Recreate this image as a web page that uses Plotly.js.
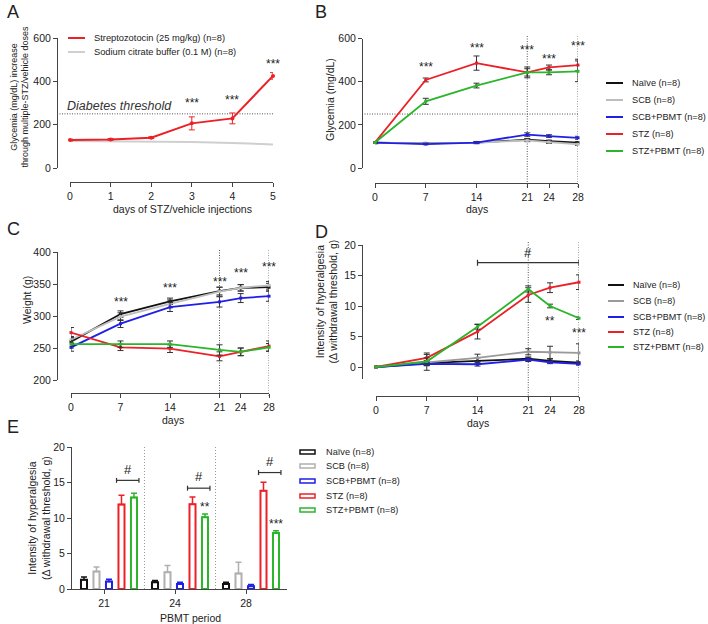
<!DOCTYPE html>
<html><head><meta charset="utf-8">
<script src="https://cdn.plot.ly/plotly-3.0.1.min.js"></script>
<style>html,body{margin:0;padding:0;background:#fff}#chart{width:708px;height:624px}</style>
</head><body><div id="chart"></div>
<script>
// ---------- DATA ----------
// Panel A
const aDays = [0, 1, 2, 3, 4, 5];
const aSTZ = [129, 132, 140, 206, 229, 425];
const aSTZErr = [4, 4, 4, 30, 25, 15];
const aSCB = [125, 124, 122, 120, 115, 109];
const aLegend = ['Streptozotocin (25 mg/kg) (n=8)', 'Sodium citrate buffer (0.1 M) (n=8)'];
const aStarDays = [3, 4, 5];
const aStarY = [300, 314, 480];

// Panels B–D
const days = [0, 7, 14, 21, 24, 28];
const groupNames = ['Naïve (n=8)', 'SCB (n=8)', 'SCB+PBMT (n=8)', 'STZ (n=8)', 'STZ+PBMT (n=8)'];

// Panel B: glycemia (mg/dL)
const bNaive = [118, 114, 118, 131, 124, 117];
const bNaiveErr = [4, 3, 4, 6, 5, 5];
const bSCB = [118, 114, 117, 128, 120, 110];
const bSCBErr = [4, 3, 4, 6, 6, 5];
const bSCBP = [118, 111, 118, 155, 148, 140];
const bSCBPErr = [5, 3, 5, 8, 6, 7];
const bSTZ = [118, 408, 486, 443, 466, 477];
const bSTZErr = [5, 9, 33, 25, 11, 27];
const bSTZP = [118, 309, 382, 443, 443, 448];
const bSTZPErr = [5, 14, 11, 17, 11, 48];
const bStarDays = [7, 14, 21, 24, 28];
const bStarY = [466, 554, 549, 503, 563];

// Panel C: weight (g)
const cNaive = [260, 303, 323, 339, 344, 345];
const cNaiveErr = [6, 5, 5, 6, 5, 6];
const cSCB = [263, 299, 319, 338, 344, 348];
const cSCBErr = [5, 6, 6, 7, 5, 6];
const cSCBP = [251, 288, 314, 322, 328, 331];
const cSCBPErr = [6, 6, 7, 8, 7, 8];
const cSTZ = [274, 251, 249, 237, 244, 253];
const cSTZErr = [8, 5, 6, 7, 6, 8];
const cSTZP = [256, 256, 256, 247, 244, 251];
const cSTZPErr = [6, 5, 5, 8, 6, 6];
const cStarDays = [7, 14, 21, 24, 28];
const cStarY = [322, 344, 353, 367, 377];

// Panel D: hyperalgesia (Δ withdrawal threshold, g)
const dNaive = [0, 0.65, 1.0, 1.35, 1.0, 0.7];
const dNaiveErr = [0, 0.4, 0.5, 0.3, 0.3, 0.3];
const dSCB = [0, 0.76, 1.5, 2.5, 2.4, 2.3];
const dSCBErr = [0, 1.3, 0.6, 0.5, 1.0, 1.5];
const dSCBP = [0, 0.5, 0.45, 1.2, 0.75, 0.5];
const dSCBPErr = [0, 0.3, 0.3, 0.3, 0.2, 0.2];
const dSTZ = [0, 1.5, 5.8, 11.8, 13.0, 13.9];
const dSTZErr = [0, 0.8, 1.2, 1.2, 0.8, 1.2];
const dSTZP = [0, 0.9, 6.6, 12.8, 10.0, 8.0];
const dSTZPErr = [0, 0.6, 0.4, 0.5, 0.3, 0.2];

// Panel E: PBMT period bars
const ePeriods = ['21', '24', '28'];
const eNaive = [1.3, 0.95, 0.7];
const eNaiveErr = [0.4, 0.25, 0.25];
const eSCB = [2.45, 2.35, 2.2];
const eSCBErr = [0.65, 0.95, 1.55];
const eSCBP = [1.05, 0.7, 0.37];
const eSCBPErr = [0.33, 0.25, 0.25];
const eSTZ = [11.9, 11.95, 13.85];
const eSTZErr = [1.3, 1.0, 1.2];
const eSTZP = [12.9, 10.1, 7.9];
const eSTZPErr = [0.6, 0.45, 0.3];

// ---------- STYLE ----------
const W = 708, H = 624;
const px = v => v / W;
const py = v => 1 - v / H;
const FONT = 'Liberation Sans, Arial, Helvetica, sans-serif';
const INK = '#222';
const AX = '#444';
const colors = ['#111111', '#bdbdbd', '#1f1fe6', '#ec2027', '#2bb52b'];
const dColors = ['#111111', '#9a9a9a', '#1f1fe6', '#ec2027', '#2bb52b'];
const eColors = ['#111111', '#b0b0b0', '#1f1fe6', '#ec2027', '#2bb52b'];

function xAxis(d0, d1, range, pos, tickvals, ticktext) {
  return {domain: [px(d0), px(d1)], range: range, anchor: 'free', position: py(pos),
    showline: true, linecolor: AX, linewidth: 1, ticks: 'outside', ticklen: 4, tickwidth: 1,
    tickcolor: AX, showgrid: false, zeroline: false, tickvals: tickvals, ticktext: ticktext,
    tickfont: {family: FONT, size: 10.5, color: INK}, fixedrange: true};
}
function yAxis(d0, d1, range, pos, dtick) {
  return {domain: [py(d1), py(d0)], range: range, anchor: 'free', position: px(pos),
    showline: true, linecolor: AX, linewidth: 1, ticks: 'outside', ticklen: 4, tickwidth: 1,
    tickcolor: AX, showgrid: false, zeroline: false, tick0: 0, dtick: dtick,
    tickfont: {family: FONT, size: 10.5, color: INK}, fixedrange: true};
}

const traces = [];
// Panel A
traces.push({x: aDays, y: aSCB, xaxis: 'x', yaxis: 'y', mode: 'lines', type: 'scatter',
  line: {color: '#cfcfcf', width: 2}, cliponaxis: false, showlegend: false});
traces.push({x: aDays, y: aSTZ, xaxis: 'x', yaxis: 'y', mode: 'lines+markers', type: 'scatter',
  line: {color: colors[3], width: 2}, marker: {size: 4, color: colors[3]}, cliponaxis: false,
  error_y: {type: 'data', array: aSTZErr, color: colors[3], thickness: 1, width: 3}, showlegend: false});

function addLines(ax, series, errs, cols) {
  series.forEach((s, i) => {
    traces.push({x: days, y: s, xaxis: 'x' + ax, yaxis: 'y' + ax, mode: 'lines+markers', type: 'scatter',
      line: {color: cols[i], width: 1.8}, marker: {size: 3, color: cols[i], symbol: 'square'},
      cliponaxis: false, showlegend: false,
      error_y: {type: 'data', array: errs[i], color: '#333', thickness: 1, width: 3}});
  });
}
addLines(2, [bNaive, bSCB, bSCBP, bSTZ, bSTZP], [bNaiveErr, bSCBErr, bSCBPErr, bSTZErr, bSTZPErr], colors);
addLines(3, [cNaive, cSCB, cSCBP, cSTZ, cSTZP], [cNaiveErr, cSCBErr, cSCBPErr, cSTZErr, cSTZPErr], colors);
addLines(4, [dNaive, dSCB, dSCBP, dSTZ, dSTZP], [dNaiveErr, dSCBErr, dSCBPErr, dSTZErr, dSTZPErr], dColors);

// Panel E bars
const eSeries = [eNaive, eSCB, eSCBP, eSTZ, eSTZP];
const eErrs = [eNaiveErr, eSCBErr, eSCBPErr, eSTZErr, eSTZPErr];
const eStep = 0.176;
const eIdx = ePeriods.map((_, i) => i);
eSeries.forEach((s, k) => {
  traces.push({type: 'bar', x: eIdx.map(g => g + (k - 2) * eStep), y: s, xaxis: 'x5', yaxis: 'y5',
    width: 0.085, marker: {color: '#ffffff', line: {color: eColors[k], width: 2}},
    error_y: {type: 'data', symmetric: false, array: eErrs[k], arrayminus: eErrs[k].map(() => 0),
      color: eColors[k], thickness: 1.5, width: 3},
    showlegend: false, cliponaxis: false});
});

// ---------- DECORATIONS ----------
const shapes = [];
const annotations = [];
const dot = {color: '#555', width: 1, dash: '1px,1.5px'};
function txt(x, y, text, size, extra) {
  annotations.push(Object.assign({x: px(x), y: py(y), xref: 'paper', yref: 'paper', text: text,
    showarrow: false, font: {family: FONT, size: size, color: INK}, xanchor: 'center', yanchor: 'middle'}, extra || {}));
}
function dataTxt(ax, x, y, text, size) {
  annotations.push({x: x, y: y, xref: 'x' + ax, yref: 'y' + ax, text: text, showarrow: false,
    font: {family: FONT, size: size, color: INK}, xanchor: 'center', yanchor: 'middle'});
}

// threshold lines
shapes.push({type: 'line', xref: 'paper', yref: 'y', x0: px(57), x1: px(273), y0: 250, y1: 250, line: dot, layer: 'below'});
shapes.push({type: 'line', xref: 'paper', yref: 'y2', x0: px(362), x1: px(578), y0: 250, y1: 250, line: dot, layer: 'below'});
txt(65, 106, '<i>Diabetes threshold</i>', 12.5, {xanchor: 'left', font: {family: FONT, size: 12.5, color: '#333'}});

// vertical dotted day markers
[21, 28].forEach(d => {
  shapes.push({type: 'line', xref: 'x2', yref: 'paper', x0: d, x1: d, y0: py(187), y1: py(35), line: dot, layer: 'below'});
  shapes.push({type: 'line', xref: 'x3', yref: 'paper', x0: d, x1: d, y0: py(396), y1: py(249), line: dot, layer: 'below'});
  shapes.push({type: 'line', xref: 'x4', yref: 'paper', x0: d, x1: d, y0: py(398), y1: py(242), line: dot, layer: 'below'});
});
// E separators
[0.5, 1.5].forEach(v => {
  shapes.push({type: 'line', xref: 'x5', yref: 'paper', x0: v, x1: v, y0: py(589), y1: py(446), line: {color: '#999', width: 1, dash: '1px,2px'}, layer: 'below'});
});

// significance stars
aStarDays.forEach((d, i) => dataTxt('', d, aStarY[i], '***', 12));
bStarDays.forEach((d, i) => dataTxt(2, d, bStarY[i], '***', 12));
cStarDays.forEach((d, i) => dataTxt(3, d, cStarY[i], '***', 12));
dataTxt(4, 24, 7.5, '**', 12);
dataTxt(4, 28, 5.6, '***', 12);
dataTxt(4, 21, 18.85, '#', 13);
// D bracket
const brk = {color: '#333', width: 1.2};
shapes.push({type: 'line', xref: 'x4', yref: 'y4', x0: 14, x1: 28, y0: 17.1, y1: 17.1, line: brk});
[14, 28].forEach(d => shapes.push({type: 'line', xref: 'x4', yref: 'y4', x0: d, x1: d, y0: 16.6, y1: 17.6, line: brk}));
// E brackets and stars
const eBrY = [15.3, 14.2, 16.4];
const eHashY = [16.9, 15.9, 17.9];
eIdx.forEach(g => {
  const xa = g + eStep - 0.07, xb = g + 2 * eStep + 0.07;
  shapes.push({type: 'line', xref: 'x5', yref: 'y5', x0: xa, x1: xb, y0: eBrY[g], y1: eBrY[g], line: brk});
  [xa, xb].forEach(v => shapes.push({type: 'line', xref: 'x5', yref: 'y5', x0: v, x1: v, y0: eBrY[g] - 0.35, y1: eBrY[g] + 0.35, line: brk}));
  dataTxt(5, (xa + xb) / 2, eHashY[g], '#', 13);
});
dataTxt(5, 1 + 2 * eStep, 11.5, '**', 12);
dataTxt(5, 2 + 2 * eStep, 9.15, '***', 12);

// legends (manual)
function lineLegend(labels, cols, x0, x1, xt, ys, size) {
  labels.forEach((l, i) => {
    shapes.push({type: 'line', xref: 'paper', yref: 'paper', x0: px(x0), x1: px(x1), y0: py(ys[i]), y1: py(ys[i]), line: {color: cols[i], width: 2}});
    txt(xt, ys[i], l, size, {xanchor: 'left'});
  });
}
lineLegend(aLegend, [colors[3], '#cfcfcf'], 68, 85, 92, [38, 52], 9.3);
lineLegend(groupNames, colors, 606, 623, 630, [83, 100, 117, 134, 151], 9.2);
lineLegend(groupNames, dColors, 608, 624, 631, [285, 301, 317, 332, 347], 9.0);
groupNames.forEach((l, i) => {
  const y = [452, 466, 481, 496, 510][i];
  shapes.push({type: 'rect', xref: 'paper', yref: 'paper', x0: px(300), x1: px(315), y0: py(y + 2), y1: py(y - 2), line: {color: eColors[i], width: 1.5}, fillcolor: '#fff'});
  txt(324, y, l, 9.2, {xanchor: 'left'});
});

// panel letters
[['A', 13, 12], ['B', 321, 12], ['C', 13, 229], ['D', 321, 232], ['E', 13, 427]].forEach(p => txt(p[1], p[2], p[0], 18));

// axis titles
txt(19.5, 97, 'Glycemia (mg/dL) increase<br>through multiple-STZ/vehicle doses', 9, {textangle: -90});
txt(182, 209, 'days of STZ/vehicle injections', 10.5);
txt(330, 100, 'Glycemia (mg/dL)', 10.5, {textangle: -90});
txt(477, 209, 'days', 10.5);
txt(27, 300, 'Weight (g)', 10.5, {textangle: -90});
txt(173, 420, 'days', 10.5);
txt(326.5, 302, 'Intensity of hyperalgesia<br>(Δ withdrawal threshold, g)', 10.5, {textangle: -90});
txt(478, 423, 'days', 10.5);
txt(39, 518, 'Intensity of hyperalgesia<br>(Δ withdrawal threshold, g)', 10.5, {textangle: -90});
txt(190, 618, 'PBMT period', 10.5);

const layout = {
  width: W, height: H, margin: {l: 0, r: 0, t: 0, b: 0},
  paper_bgcolor: '#ffffff', plot_bgcolor: 'rgba(0,0,0,0)',
  font: {family: FONT, size: 10.5, color: INK},
  showlegend: false, barmode: 'overlay',
  xaxis: xAxis(70, 273, [0, 5], 182, aDays),
  yaxis: yAxis(38, 168, [0, 600], 57, 200),
  xaxis2: xAxis(375, 578, [0, 28], 183, days),
  yaxis2: yAxis(38.5, 168, [0, 600], 362, 200),
  xaxis3: xAxis(71, 269, [0, 28], 393, days),
  yaxis3: yAxis(252, 380, [200, 400], 57, 50),
  xaxis4: xAxis(376, 579, [0, 28], 396, days),
  yaxis4: yAxis(245, 379.2, [-2, 20], 362, 5),
  xaxis5: xAxis(71, 287, [-0.535, 2.507], 589, eIdx.map(g => g - 0.07), ePeriods),
  yaxis5: yAxis(447, 589, [0, 20], 71, 5),
  shapes: shapes, annotations: annotations
};
layout.yaxis4.tickvals = [0, 5, 10, 15, 20];

Plotly.newPlot('chart', traces, layout, {staticPlot: true, displayModeBar: false});
</script>
</body></html>
